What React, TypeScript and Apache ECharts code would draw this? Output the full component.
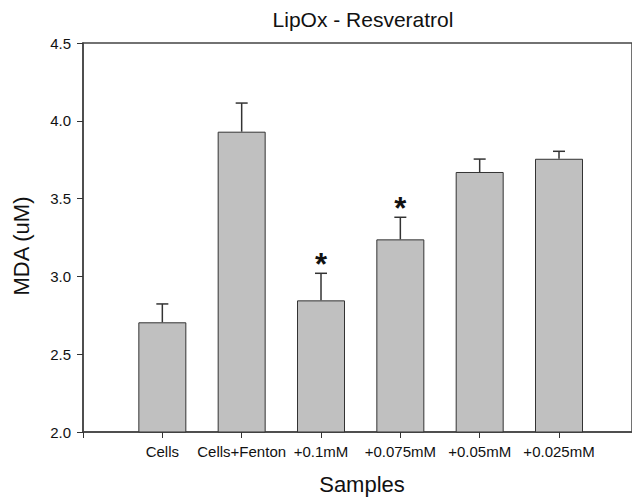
import React, { useEffect, useRef } from "react";
import * as echarts from "echarts";

const categories: string[] = ["Cells", "Cells+Fenton", "+0.1mM", "+0.075mM", "+0.05mM", "+0.025mM"];
const means: number[] = [2.705, 3.93, 2.846, 3.238, 3.671, 3.756];
const errors: number[] = [0.118, 0.184, 0.174, 0.142, 0.083, 0.048];
const significant: boolean[] = [false, false, true, true, false, false];
const yTicks = { min: 2.0, max: 4.5, interval: 0.5 };

const TITLE = "LipOx - Resveratrol";
const X_NAME = "Samples";
const Y_NAME = "MDA (uM)";

const FONT = "'Liberation Sans', Arial, Helvetica, sans-serif";
const INK = "#333333";

export default function App() {
  const ref = useRef<HTMLDivElement>(null);

  useEffect(() => {
    if (!ref.current) return;
    const chart = echarts.init(ref.current, undefined, { renderer: "svg" });

    const positions = categories.map((_, i) => i + 1);
    const barData = positions.map((p, i) => [p, means[i]]);
    const errData = positions.map((p, i) => [p, means[i], errors[i], significant[i] ? 1 : 0]);

    const option: any = {
      animation: false,
      backgroundColor: "#ffffff",
      textStyle: { fontFamily: FONT },
      grid: {
        left: 83,
        right: -3,
        top: 43,
        bottom: 68,
        show: true,
        borderColor: "#444",
        borderWidth: 1.5,
        containLabel: false,
      },
      xAxis: {
        type: "value",
        min: 0,
        max: 6.92,
        interval: 1,
        splitLine: { show: false },
        axisLine: { show: true, lineStyle: { color: "#444", width: 1.5 } },
        axisTick: {
          show: true,
          length: 6,
          inside: false,
          lineStyle: { color: INK, width: 1 },
          customValues: [0, ...positions],
        },
        axisLabel: {
          color: "#111",
          fontSize: 15,
          fontFamily: FONT,
          margin: 12,
          customValues: positions,
          formatter: (v: number) => {
            const i = Math.round(v) - 1;
            return Math.abs(v - Math.round(v)) < 1e-6 && i >= 0 && i < categories.length ? categories[i] : "";
          },
        },
      },
      yAxis: {
        type: "value",
        min: yTicks.min,
        max: yTicks.max,
        interval: yTicks.interval,
        splitLine: { show: false },
        axisLine: { show: true, lineStyle: { color: "#444", width: 1.5 } },
        axisTick: { show: true, length: 6, inside: false, lineStyle: { color: INK, width: 1 } },
        axisLabel: {
          color: "#111",
          fontSize: 15,
          fontFamily: FONT,
          margin: 12,
          formatter: (v: number) => v.toFixed(1),
        },
      },
      graphic: [
        {
          type: "text",
          x: 363,
          y: 19,
          style: {
            text: TITLE,
            fontSize: 21,
            fontFamily: FONT,
            fill: "#111",
            textAlign: "center",
            textVerticalAlign: "middle",
          },
        },
        {
          type: "text",
          x: 362,
          y: 484,
          style: {
            text: X_NAME,
            fontSize: 22,
            fontFamily: FONT,
            fill: "#111",
            textAlign: "center",
            textVerticalAlign: "middle",
          },
        },
        {
          type: "text",
          x: 21,
          y: 246,
          rotation: Math.PI / 2,
          style: {
            text: Y_NAME,
            fontSize: 22,
            fontFamily: FONT,
            fill: "#111",
            textAlign: "center",
            textVerticalAlign: "middle",
          },
        },
      ],
      series: [
        {
          type: "bar",
          data: barData,
          barWidth: 48,
          clip: true,
          itemStyle: { color: "#c0c0c0", borderColor: INK, borderWidth: 1 },
          z: 2,
        },
        {
          type: "custom",
          data: errData,
          clip: false,
          z: 3,
          renderItem: (params: any, api: any) => {
            const x = api.value(0);
            const m = api.value(1);
            const e = api.value(2);
            const sig = api.value(3);
            const pBase = api.coord([x, m]);
            const pTop = api.coord([x, m + e]);
            const half = 6;
            const children: any[] = [
              {
                type: "line",
                shape: { x1: pBase[0], y1: pBase[1], x2: pTop[0], y2: pTop[1] },
                style: { stroke: INK, lineWidth: 1.5 },
              },
              {
                type: "line",
                shape: { x1: pTop[0] - half, y1: pTop[1], x2: pTop[0] + half, y2: pTop[1] },
                style: { stroke: INK, lineWidth: 1.5 },
              },
            ];
            if (sig) {
              children.push({
                type: "text",
                x: pTop[0],
                y: pTop[1] + 7,
                style: {
                  text: "*",
                  fontSize: 31,
                  fontWeight: "bold",
                  fontFamily: FONT,
                  fill: "#111",
                  textAlign: "center",
                  textVerticalAlign: "bottom",
                },
              });
            }
            return { type: "group", children };
          },
        },
      ],
    };

    chart.setOption(option);
    return () => chart.dispose();
  }, []);

  return (
    <div
      ref={ref}
      style={{ position: "absolute", left: 0, top: 0, width: 632, height: 500, background: "#fff" }}
    />
  );
}
